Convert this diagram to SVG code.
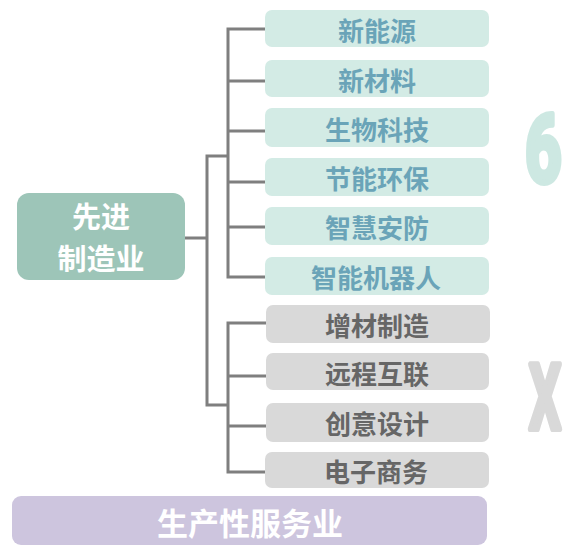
<svg xmlns="http://www.w3.org/2000/svg" width="563" height="549" viewBox="0 0 563 549">
<style>
.cjk{font-family:"Noto Sans CJK SC","Noto Sans",sans-serif;font-weight:700;text-anchor:middle;dominant-baseline:central}
.g{fill:#d3ebe5}
.gt{fill:#6aa4b8;font-size:26px}
.s{fill:#d9d9d9}
.st{fill:#666666;font-size:26px}
.conn{fill:none;stroke:#7f7f7f;stroke-width:3}
.big{font-family:Roboto,"Liberation Sans",sans-serif;font-weight:700;stroke-width:6;stroke-linejoin:round}
</style>
<rect width="563" height="549" fill="#ffffff"/>
<g id="connectors" class="conn">
<path d="M185 238H207M228 156H207V405H228"/>
<path d="M265 29H228V277H265M228 81H265M228 131H265M228 182H265M228 227H265"/>
<path d="M266 323H228V472H266M228 376H266M228 426H266"/>
</g>
<g id="n-main"><rect x="17" y="193" width="168" height="87" rx="12" fill="#9dc5b8"/>
<text class="cjk" font-size="29" fill="#ffffff"><tspan x="101" y="215">先进</tspan><tspan x="101" y="257">制造业</tspan></text></g>
<g id="n1"><rect class="g" x="265" y="10" width="224" height="37" rx="7"/><text class="cjk gt" x="377" y="29">新能源</text></g>
<g id="n2"><rect class="g" x="265" y="60" width="224" height="37" rx="7"/><text class="cjk gt" x="377" y="79">新材料</text></g>
<g id="n3"><rect class="g" x="265" y="108" width="224" height="39" rx="7"/><text class="cjk gt" x="377" y="128">生物科技</text></g>
<g id="n4"><rect class="g" x="265" y="158" width="224" height="38" rx="7"/><text class="cjk gt" x="377" y="177">节能环保</text></g>
<g id="n5"><rect class="g" x="265" y="207" width="224" height="38" rx="7"/><text class="cjk gt" x="377" y="226">智慧安防</text></g>
<g id="n6"><rect class="g" x="265" y="257" width="224" height="38" rx="7"/><text class="cjk gt" x="376" y="276" font-size="27">智能机器人</text></g>
<g id="s1"><rect class="s" x="266" y="305" width="224" height="38" rx="7"/><text class="cjk st" x="377" y="324">增材制造</text></g>
<g id="s2"><rect class="s" x="266" y="353" width="223" height="37" rx="7"/><text class="cjk st" x="377" y="372">远程互联</text></g>
<g id="s3"><rect class="s" x="266" y="403" width="223" height="39" rx="7"/><text class="cjk st" x="377" y="422">创意设计</text></g>
<g id="s4"><rect class="s" x="265" y="452" width="224" height="36" rx="7"/><text class="cjk st" x="376" y="470">电子商务</text></g>
<g id="n-service"><rect x="12" y="496" width="475" height="49" rx="9" fill="#cdc5de"/>
<text class="cjk" x="250" y="521" font-size="31" fill="#ffffff">生产性服务业</text></g>
<text class="big" transform="translate(525 182) scale(0.68 1)" font-size="94" fill="#cde8e2" stroke="#cde8e2">6</text>
<text class="big" transform="translate(529 429) scale(0.56 1)" font-size="90" fill="#d9d9d9" stroke="#d9d9d9">X</text>
</svg>
